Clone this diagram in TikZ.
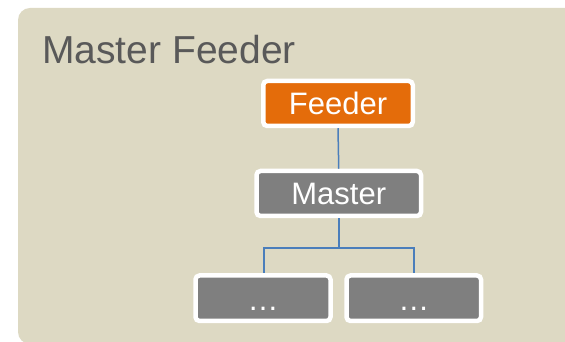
\documentclass[tikz,border=0pt]{standalone}
\usepackage{fontspec}
\setmainfont{Liberation Sans}
\definecolor{paneltan}{HTML}{DDD9C3}
\definecolor{feederorange}{HTML}{E46C0A}
\definecolor{boxgrey}{HTML}{7F7F7F}
\definecolor{titlegrey}{HTML}{595959}
\definecolor{linkblue}{HTML}{4A7EBB}
\tikzset{
	fundbox/.style={draw=white,line width=4.5pt,rounded corners=4pt,minimum height=45pt,inner sep=0pt,text=white,font=\fontsize{31}{31}\selectfont},
	subfund/.style={fundbox,fill=boxgrey,minimum height=45.5pt,text height=25pt,text depth=0pt},
	link/.style={draw=linkblue,line width=1.5pt}
}
\begin{document}
\begin{tikzpicture}[x=1pt,y=1pt]
			\useasboundingbox (0,0) rectangle (565,342);
			\clip (0,0) rectangle (565,342);
			\fill[paneltan,rounded corners=12pt] (18,-2) rectangle (590,334);
			\node[anchor=base west,inner sep=0pt,text=titlegrey,font=\fontsize{39}{39}\selectfont] (title) at (42,278) {Master Feeder};
			\node[fundbox,fill=feederorange,minimum width=149.5pt] (feeder) at (338,238.5) {Feeder};
			\node[fundbox,fill=boxgrey,minimum width=164.5pt] (master) at (338.75,148.5) {Master};
			\node[subfund,minimum width=135pt] (left) at (263,43.75) {…};
			\node[subfund,minimum width=134.5pt] (right) at (413.75,43.75) {…};
			\draw[link] (feeder.south) -- (master.north);
			\draw[link] (master.south) -- ++(0,-30) coordinate (fork);
			\draw[link] (fork) -| ([xshift=1pt]left.north);
			\draw[link] (fork) -| (right.north);
		\end{tikzpicture}
\end{document}
